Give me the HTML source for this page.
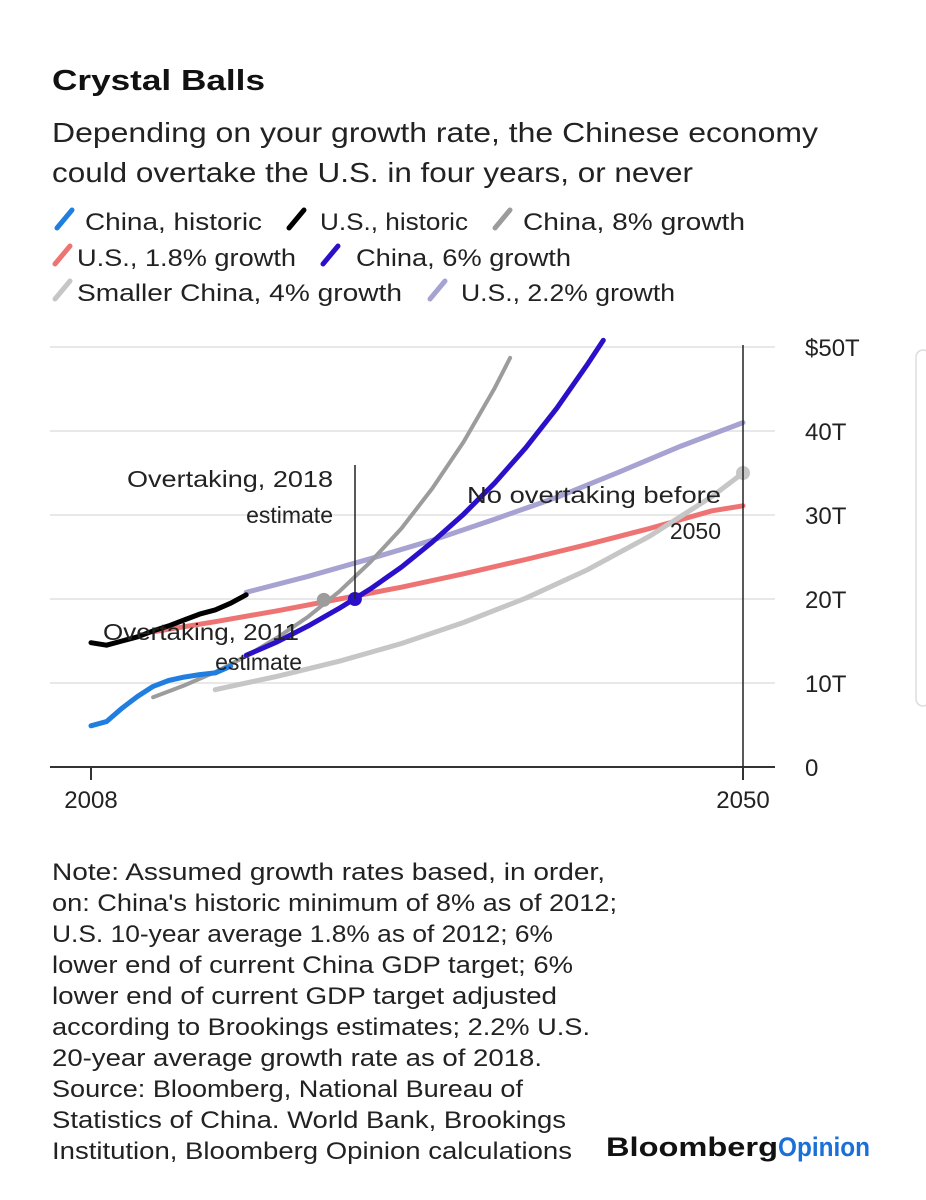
<!DOCTYPE html>
<html><head><meta charset="utf-8"><style>
html,body{margin:0;padding:0;background:#fff;}
svg{display:block;font-family:"Liberation Sans",sans-serif;}
</style></head><body>
<svg id="chart" width="926" height="1200" viewBox="0 0 926 1200">
<text x="52" y="90" font-size="29" font-weight="bold" fill="#111" textLength="213" lengthAdjust="spacingAndGlyphs">Crystal Balls</text>
<text x="52" y="142" font-size="28" fill="#222" textLength="766" lengthAdjust="spacingAndGlyphs">Depending on your growth rate, the Chinese economy</text>
<text x="52" y="182" font-size="28" fill="#222" textLength="641" lengthAdjust="spacingAndGlyphs">could overtake the U.S. in four years, or never</text>
<g id="legend"></g>
<g id="grid"></g>
<g id="yaxis"></g>
<g id="xaxis"></g>
<g id="series"></g>
<g id="annot"></g>
<g id="notes"></g>
<text x="606" y="1156" font-size="27" font-weight="bold" fill="#111" textLength="172" lengthAdjust="spacingAndGlyphs">Bloomberg</text>
<text x="778" y="1156" font-size="27" font-weight="bold" fill="#1a6fd8" textLength="92" lengthAdjust="spacingAndGlyphs">Opinion</text>
<rect x="916" y="350" width="14" height="356" rx="7" fill="none" stroke="#ddd" stroke-width="1.5"/>
</svg>
<script>
const yTicks = [0, 10, 20, 30, 40, 50];
const yTickLabels = ["0", "10T", "20T", "30T", "40T", "$50T"];
const xTicks = [2008, 2050];
const xTickLabels = ["2008", "2050"];

const chinaHistYears = [2008, 2009, 2010, 2011, 2012, 2013, 2014, 2015, 2016, 2017];
const chinaHistVals = [4.9, 5.4, 7.0, 8.4, 9.6, 10.3, 10.7, 11.0, 11.2, 12.0];
const usHistYears = [2008, 2009, 2010, 2011, 2012, 2013, 2014, 2015, 2016, 2017, 2018];
const usHistVals = [14.8, 14.5, 15.0, 15.5, 16.2, 16.8, 17.5, 18.2, 18.7, 19.5, 20.5];
const us18Years = [2012, 2016, 2020, 2024, 2028, 2032, 2036, 2040, 2044, 2048, 2050];
const us18Vals = [16.1, 17.3, 18.6, 20.0, 21.4, 23.0, 24.7, 26.5, 28.4, 30.5, 31.1];
const china4Years = [2016, 2020, 2024, 2028, 2032, 2036, 2040, 2044, 2048, 2050];
const china4Vals = [9.2, 10.8, 12.6, 14.7, 17.2, 20.1, 23.5, 27.5, 32.2, 35.0];
const us22Years = [2018, 2022, 2026, 2030, 2034, 2038, 2042, 2046, 2050];
const us22Vals = [20.8, 22.7, 24.8, 27.0, 29.5, 32.1, 35.1, 38.2, 41.0];
const china8Years = [2012, 2014, 2016, 2018, 2020, 2022, 2024, 2026, 2028, 2030, 2032, 2034, 2035];
const china8Vals = [8.3, 9.7, 11.3, 13.2, 15.4, 17.9, 20.9, 24.4, 28.4, 33.2, 38.7, 45.1, 48.7];
const china6Years = [2018, 2020, 2022, 2024, 2026, 2028, 2030, 2032, 2034, 2036, 2038, 2040, 2041];
const china6Vals = [13.3, 14.9, 16.8, 18.9, 21.2, 23.8, 26.8, 30.1, 33.8, 38.0, 42.7, 48.0, 50.8];
const dotYears = [2023, 2025, 2050];
const dotVals = [19.9, 20.0, 35.0];

const NS = "http://www.w3.org/2000/svg";
const xS = y => 91 + (y - 2008) * (652 / 42);
const yS = v => 767 - v * 8.4;
function mk(tag, attrs, parent) {
  const e = document.createElementNS(NS, tag);
  for (const k in attrs) e.setAttribute(k, attrs[k]);
  parent.appendChild(e);
  return e;
}
const G = id => document.getElementById(id);

yTicks.forEach((t, i) => {
  if (t > 0) {
    const l = mk("line", {x1: 50, x2: 775, y1: yS(t), y2: yS(t), stroke: "#e8e8e8", "stroke-width": 2}, G("grid"));
    
    
  }
  const tx = mk("text", {x: 805, y: yS(t) + 9, "font-size": 24, fill: "#222"}, G("yaxis"));
  tx.textContent = yTickLabels[i];
  
  
});
const ax = mk("line", {x1: 50, x2: 775, y1: 767, y2: 767, stroke: "#333", "stroke-width": 2}, G("xaxis"));


xTicks.forEach((t, i) => {
  const tk = mk("line", {x1: xS(t), x2: xS(t), y1: 767, y2: 780, stroke: "#333", "stroke-width": 2}, G("xaxis"));
  
  
  const tx = mk("text", {x: xS(t), y: 808, "font-size": 24, fill: "#222", "text-anchor": "middle"}, G("xaxis"));
  tx.textContent = xTickLabels[i];
  
  
});
const vl = mk("line", {x1: xS(2050), x2: xS(2050), y1: 345, y2: 767, stroke: "#222", "stroke-width": 1.5}, G("annot"));



function line(years, vals, color, w, name) {
  const d = years.map((y, i) => (i ? "L" : "M") + xS(y).toFixed(1) + "," + yS(vals[i]).toFixed(1)).join(" ");
  const p = mk("path", {d: d, fill: "none", stroke: color, "stroke-width": w, "stroke-linecap": "round", "stroke-linejoin": "round"}, G("series"));
  
  
}
line(us18Years, us18Vals, "#ee7474", 5, "us-1-8-growth-line");
line(china4Years, china4Vals, "#c6c6c6", 5, "smaller-china-4-growth-line");
line(us22Years, us22Vals, "#a6a2d2", 5, "us-2-2-growth-line");
line(china8Years, china8Vals, "#9c9c9c", 4, "china-8-growth-line");
line(china6Years, china6Vals, "#2a10c8", 5, "china-6-growth-line");
line(chinaHistYears, chinaHistVals, "#1f7ee0", 5, "china-historic-line");
line(usHistYears, usHistVals, "#000", 5, "us-historic-line");

const dotColors = ["#9c9c9c", "#2a10c8", "#c6c6c6"];
dotYears.forEach((y, i) => {
  const c = mk("circle", {cx: xS(y), cy: yS(dotVals[i]), r: 7, fill: dotColors[i]}, G("series"));
  
  
});

const ol = mk("line", {x1: 355, x2: 355, y1: 465, y2: yS(20), stroke: "#222", "stroke-width": 1.5}, G("annot"));


function txt(x, y, s, anchor, name, len) {
  const t = mk("text", {x: x, y: y, "font-size": 23, fill: "#222", "text-anchor": anchor}, G("annot"));
  if (len) { t.setAttribute("textLength", len); t.setAttribute("lengthAdjust", "spacingAndGlyphs"); }
  t.textContent = s;
  
  
}
txt(333, 487, "Overtaking, 2018", "end", "overtaking-2018-label", 206);
txt(333, 523, "estimate", "end", "overtaking-2018-label-2", 0);
txt(103, 640, "Overtaking, 2011", "start", "overtaking-2011-label", 196);
txt(302, 670, "estimate", "end", "overtaking-2011-label-2", 0);
txt(467, 503, "No overtaking before", "start", "no-overtaking-label", 254);
txt(721, 539, "2050", "end", "no-overtaking-label-2", 0);

const legNames = ["China, historic", "U.S., historic", "China, 8% growth", "U.S., 1.8% growth", "China, 6% growth", "Smaller China, 4% growth", "U.S., 2.2% growth"];
const legColors = ["#1f7ee0", "#000", "#9c9c9c", "#ee7474", "#2a10c8", "#c6c6c6", "#a6a2d2"];
const legPos = [[55,230,85,177],[287,230,320,148],[493,230,523,222],[53,266,77,219],[321,266,356,215],[53,301,77,325],[428,301,461,214]];
legNames.forEach((n, i) => {
  const p = legPos[i];
  const l = mk("line", {x1: p[0] + 2, y1: p[1] - 2, x2: p[0] + 17, y2: p[1] - 20, stroke: legColors[i], "stroke-width": 5, "stroke-linecap": "round"}, G("legend"));
  
  
  const t = mk("text", {x: p[2], y: p[1], "font-size": 24, fill: "#222", textLength: p[3], lengthAdjust: "spacingAndGlyphs"}, G("legend"));
  t.textContent = n;
  
  
});

const noteLines = ["Note: Assumed growth rates based, in order,", "on: China's historic minimum of 8% as of 2012;", "U.S. 10-year average 1.8% as of 2012; 6%", "lower end of current China GDP target; 6%", "lower end of current GDP target adjusted", "according to Brookings estimates; 2.2% U.S.", "20-year average growth rate as of 2018.", "Source: Bloomberg, National Bureau of", "Statistics of China. World Bank, Brookings", "Institution, Bloomberg Opinion calculations"];
const noteW = [553, 565, 501, 521, 505, 538, 490, 471, 514, 520];
noteLines.forEach((s, i) => {
  const t = mk("text", {x: 52, y: 880 + i * 31, "font-size": 24, fill: "#222", textLength: noteW[i], lengthAdjust: "spacingAndGlyphs"}, G("notes"));
  t.textContent = s;
  
  
});
</script>
</body></html>
